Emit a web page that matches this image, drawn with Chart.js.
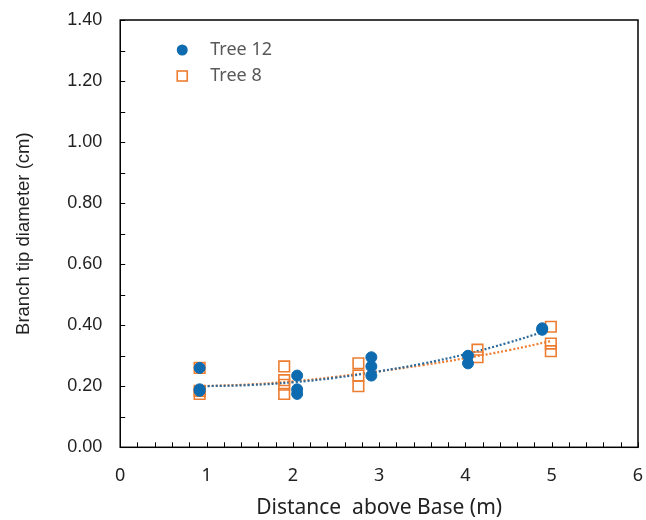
<!DOCTYPE html>
<html>
<head>
<meta charset="utf-8">
<script src="https://cdn.jsdelivr.net/npm/chart.js@4"></script>
<style>
  html, body { margin: 0; padding: 0; background: #fff; }
  #wrap { width: 646px; height: 520px; position: relative; }
</style>
</head>
<body>
<div id="wrap"><canvas id="scatterChart"></canvas></div>
<script>
// Tree 12 samples
const tree12X = [0.92, 0.92, 0.92, 2.05, 2.05, 2.05, 2.91, 2.91, 2.91, 4.03, 4.03, 4.89, 4.89];
const tree12Y = [0.26, 0.19, 0.185, 0.235, 0.19, 0.175, 0.295, 0.265, 0.235, 0.30, 0.275, 0.39, 0.385];
// Tree 8 samples
const tree8X = [0.92, 0.92, 0.92, 1.90, 1.90, 1.90, 1.90, 2.76, 2.76, 2.76, 4.14, 4.14, 4.99, 4.99, 4.99];
const tree8Y = [0.26, 0.185, 0.175, 0.265, 0.22, 0.205, 0.175, 0.275, 0.235, 0.20, 0.32, 0.295, 0.395, 0.34, 0.315];
// trendlines
const trend12X = [0.92, 1.5, 2.0, 2.5, 3.0, 3.5, 4.0, 4.5, 4.89];
const trend12Y = [0.200, 0.204, 0.213, 0.228, 0.249, 0.274, 0.305, 0.343, 0.377];
const trend8X = [0.92, 1.5, 2.0, 2.5, 3.0, 3.5, 4.0, 4.5, 4.99];
const trend8Y = [0.200, 0.206, 0.216, 0.231, 0.249, 0.269, 0.292, 0.318, 0.348];

const xTickLabels = [0, 1, 2, 3, 4, 5, 6];
const yTickLabels = ['0.00', '0.20', '0.40', '0.60', '0.80', '1.00', '1.20', '1.40'];

const blue = '#0F6BAF';
const orange = '#ED7D31';

const pts = (xs, ys) => xs.map((x, i) => ({ x: x, y: ys[i] }));

// inward ticks + box border
const frame = {
    id: 'frame',
    afterDraw(chart) {
        const { ctx, chartArea: a, scales } = chart;
        ctx.save();
        ctx.strokeStyle = '#000';
        ctx.lineWidth = 1;
        ctx.beginPath();
        for (let v = 0; v <= 14; v++) {
            const y = Math.round(scales.y.getPixelForValue(v / 10)) + 0.5;
            ctx.moveTo(a.left, y);
            ctx.lineTo(a.left + 5, y);
        }
        for (let v = 0; v <= 30; v++) {
            const x = Math.round(scales.x.getPixelForValue(v / 5)) + 0.5;
            ctx.moveTo(x, a.bottom);
            ctx.lineTo(x, a.bottom - 5);
        }
        ctx.stroke();
        ctx.lineWidth = 1.5;
        ctx.strokeRect(a.left, a.top, a.right - a.left, a.bottom - a.top);
        ctx.restore();
    }
};

// legend inside the plot
const innerLegend = {
    id: 'innerLegend',
    afterDraw(chart) {
        const { ctx, chartArea: a } = chart;
        ctx.save();
        ctx.font = '18px "Noto Sans"';
        ctx.textBaseline = 'middle';
        const lx = a.left + 62, ty = a.top + 30;
        ctx.fillStyle = blue;
        ctx.beginPath();
        ctx.arc(lx, ty, 5.5, 0, Math.PI * 2);
        ctx.fill();
        ctx.strokeStyle = orange;
        ctx.lineWidth = 1.6;
        ctx.strokeRect(lx - 5, ty + 26 - 5, 10, 10);
        ctx.fillStyle = '#595959';
        ctx.fillText('Tree 12', lx + 28, ty);
        ctx.fillText('Tree 8', lx + 28, ty + 26);
        ctx.restore();
    }
};

const ctx = document.getElementById('scatterChart').getContext('2d');
new Chart(ctx, {
    type: 'scatter',
    data: {
        datasets: [
            {
                label: 'Tree 12',
                data: pts(tree12X, tree12Y),
                pointStyle: 'circle',
                pointRadius: 5.5,
                backgroundColor: blue,
                borderColor: blue,
                borderWidth: 1
            },
            {
                label: 'Tree 8',
                data: pts(tree8X, tree8Y),
                pointStyle: 'rect',
                pointRadius: 7.5,
                backgroundColor: 'rgba(0,0,0,0)',
                borderColor: orange,
                borderWidth: 1.6
            },
            {
                label: 'trend 12',
                type: 'line',
                data: pts(trend12X, trend12Y),
                borderColor: '#2A6A9C',
                borderWidth: 2.2,
                borderDash: [2, 2],
                pointRadius: 0,
                tension: 0.4,
                fill: false
            },
            {
                label: 'trend 8',
                type: 'line',
                data: pts(trend8X, trend8Y),
                borderColor: orange,
                borderWidth: 2.2,
                borderDash: [2, 2],
                pointRadius: 0,
                tension: 0.4,
                fill: false
            }
        ]
    },
    options: {
        responsive: true,
        maintainAspectRatio: false,
        animation: false,
        layout: { autoPadding: false, padding: { left: 13, right: 8, top: 20, bottom: 0 } },
        plugins: {
            legend: { display: false },
            tooltip: { enabled: false }
        },
        scales: {
            x: {
                type: 'linear',
                min: 0,
                max: 6,
                grid: { display: false, drawTicks: false },
                border: { display: false },
                afterBuildTicks: (s) => { s.ticks = xTickLabels.map(v => ({ value: v })); },
                afterFit: (s) => { s.paddingLeft = 0; s.paddingRight = 0; },
                ticks: {
                    padding: 18,
                    color: '#222',
                    font: { family: '"Noto Sans"', size: 18 },
                    callback: (v) => String(v)
                },
                title: {
                    display: true,
                    text: 'Distance  above Base (m)',
                    color: '#222',
                    font: { family: '"Noto Sans"', size: 21, lineHeight: 1.1 },
                    padding: { top: -8, bottom: 0 }
                }
            },
            y: {
                min: 0,
                max: 1.4,
                grid: { display: false, drawTicks: false },
                border: { display: false },
                afterBuildTicks: (s) => { s.ticks = yTickLabels.map(t => ({ value: parseFloat(t) })); },
                afterFit: (s) => { s.paddingTop = 0; s.paddingBottom = 0; },
                ticks: {
                    padding: 18,
                    color: '#222',
                    font: { family: '"Liberation Sans"', size: 18 },
                    callback: (v) => v.toFixed(2)
                },
                title: {
                    display: true,
                    text: 'Branch tip diameter (cm)',
                    color: '#222',
                    font: { family: '"Liberation Sans"', size: 18.5 },
                    padding: { top: 0, bottom: 14 }
                }
            }
        }
    },
    plugins: [frame, innerLegend]
});
</script>
</body>
</html>
